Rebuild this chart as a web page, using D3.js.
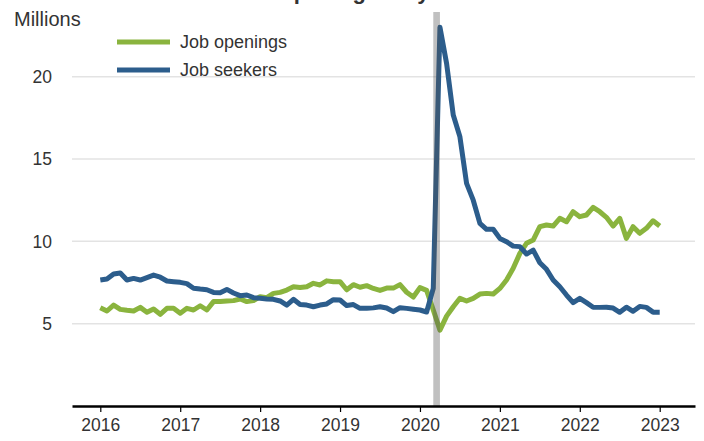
<!DOCTYPE html>
<html>
<head>
<meta charset="utf-8">
<script src="https://cdn.jsdelivr.net/npm/d3@7"></script>
<style>
  body { margin: 0; background: #fff; }
  svg { display: block; font-family: "Liberation Sans", Arial, sans-serif; }
</style>
</head>
<body>
<svg id="chart" width="704" height="441"></svg>
<script>
// Monthly series, January 2016 through January 2023 (millions)
const startYear = 2016;
const yearTicks = [2016, 2017, 2018, 2019, 2020, 2021, 2022, 2023];
const valueTicks = [5, 10, 15, 20];
const seriesNames = ["Job openings", "Job seekers"];
const seriesColors = ["#8ab43e", "#2c5d8c"];

const jobOpenings = [
  5.97, 5.77, 6.13, 5.87, 5.81, 5.77, 5.99, 5.69, 5.89, 5.57, 5.93, 5.93,
  5.63, 5.93, 5.83, 6.09, 5.83, 6.34, 6.34, 6.38, 6.40, 6.50, 6.34, 6.40,
  6.64, 6.58, 6.84, 6.90, 7.04, 7.24, 7.20, 7.24, 7.45, 7.35, 7.60, 7.55,
  7.55, 7.06, 7.37, 7.21, 7.31, 7.14, 7.02, 7.16, 7.16, 7.37, 6.91, 6.62,
  7.19, 7.02, 5.83, 4.61, 5.46, 6.03, 6.54, 6.38, 6.54, 6.80, 6.84, 6.80,
  7.14, 7.65, 8.36, 9.27, 9.88, 10.08, 10.89, 10.99, 10.93, 11.40, 11.19, 11.80,
  11.50, 11.60, 12.06, 11.80, 11.46, 10.93, 11.40, 10.18, 10.89, 10.49, 10.79, 11.25,
  10.93
];

const jobSeekers = [
  7.65, 7.71, 8.02, 8.08, 7.65, 7.75, 7.65, 7.80, 7.95, 7.82, 7.59, 7.55,
  7.51, 7.43, 7.15, 7.10, 7.06, 6.90, 6.88, 7.08, 6.86, 6.70, 6.74, 6.58,
  6.54, 6.50, 6.48, 6.38, 6.13, 6.48, 6.17, 6.13, 6.03, 6.13, 6.20, 6.46,
  6.44, 6.10, 6.16, 5.93, 5.93, 5.96, 6.03, 5.95, 5.73, 5.97, 5.93, 5.88,
  5.83, 5.71, 7.14, 23.00, 20.80, 17.67, 16.35, 13.52, 12.50, 11.09, 10.73, 10.73,
  10.18, 9.98, 9.71, 9.68, 9.23, 9.47, 8.70, 8.30, 7.65, 7.24, 6.74, 6.28,
  6.54, 6.28, 6.00, 5.99, 6.00, 5.95, 5.69, 6.00, 5.75, 6.05, 5.99, 5.70,
  5.70
];

// Shaded recession band, in months since January 2016 (March to April 2020)
const recessionMonths = [50, 51];

const svg = d3.select("#chart");

// x: months since January 2016
const x = d3.scaleLinear().domain([-4.25, 89.3]).range([72, 695]);
const y = d3.scaleLinear().domain([0, 20]).range([406, 76.7]);

// Horizontal gridlines
svg.append("g")
  .selectAll("line")
  .data(valueTicks)
  .join("line")
  .attr("x1", 72).attr("x2", 695)
  .attr("y1", d => y(d)).attr("y2", d => y(d))
  .attr("stroke", "#e3e3e3")
  .attr("stroke-width", 1.5);

// Y tick labels
svg.append("g")
  .selectAll("text")
  .data(valueTicks)
  .join("text")
  .attr("x", 52)
  .attr("y", d => y(d))
  .attr("dy", "0.36em")
  .attr("text-anchor", "end")
  .attr("font-size", 17.5)
  .attr("fill", "#333")
  .text(d => d);

svg.append("text")
  .attr("x", 14).attr("y", 26)
  .attr("font-size", 20)
  .attr("fill", "#333")
  .text("Millions");

// Title, set high so only its descenders reach into view
svg.append("text")
  .attr("x", 388).attr("y", -1)
  .attr("text-anchor", "middle")
  .attr("font-size", 22)
  .attr("font-weight", "bold")
  .attr("fill", "#333")
  .text("Job openings fully recovered");

// Series lines
const line = d3.line()
  .x((d, i) => x(i))
  .y(d => y(d));

[jobOpenings, jobSeekers].forEach((values, k) => {
  svg.append("path")
    .datum(values)
    .attr("fill", "none")
    .attr("stroke", seriesColors[k])
    .attr("stroke-width", 5)
    .attr("stroke-linejoin", "round")
    .attr("d", line);
});

// Recession band drawn over the lines
svg.append("rect")
  .attr("x", x(recessionMonths[0]))
  .attr("width", x(recessionMonths[1]) - x(recessionMonths[0]))
  .attr("y", 12)
  .attr("height", y(0) - 12)
  .attr("fill", "#555")
  .attr("opacity", 0.37);

// X axis
const xAxis = d3.axisBottom(x)
  .tickValues(yearTicks.map(yr => (yr - startYear) * 12))
  .tickFormat(d => startYear + d / 12)
  .tickSize(6)
  .tickSizeOuter(0);

const gx = svg.append("g")
  .attr("transform", `translate(0,${y(0)})`)
  .call(xAxis);
gx.select(".domain").attr("stroke", "#000").attr("stroke-width", 2.5);
gx.selectAll(".tick line").attr("stroke", "#000").attr("stroke-width", 1.2);
gx.selectAll(".tick text")
  .attr("font-family", "Liberation Sans, Arial, sans-serif")
  .attr("font-size", 17.5)
  .attr("fill", "#333")
  .attr("y", 13);

// Legend
const legend = svg.append("g");
seriesNames.forEach((name, k) => {
  const ly = 42 + k * 28;
  legend.append("line")
    .attr("x1", 117).attr("x2", 170)
    .attr("y1", ly).attr("y2", ly)
    .attr("stroke", seriesColors[k])
    .attr("stroke-width", 5);
  legend.append("text")
    .attr("x", 180).attr("y", ly)
    .attr("dy", "0.36em")
    .attr("font-size", 18)
    .attr("fill", "#333")
    .text(name);
});
</script>
</body>
</html>
